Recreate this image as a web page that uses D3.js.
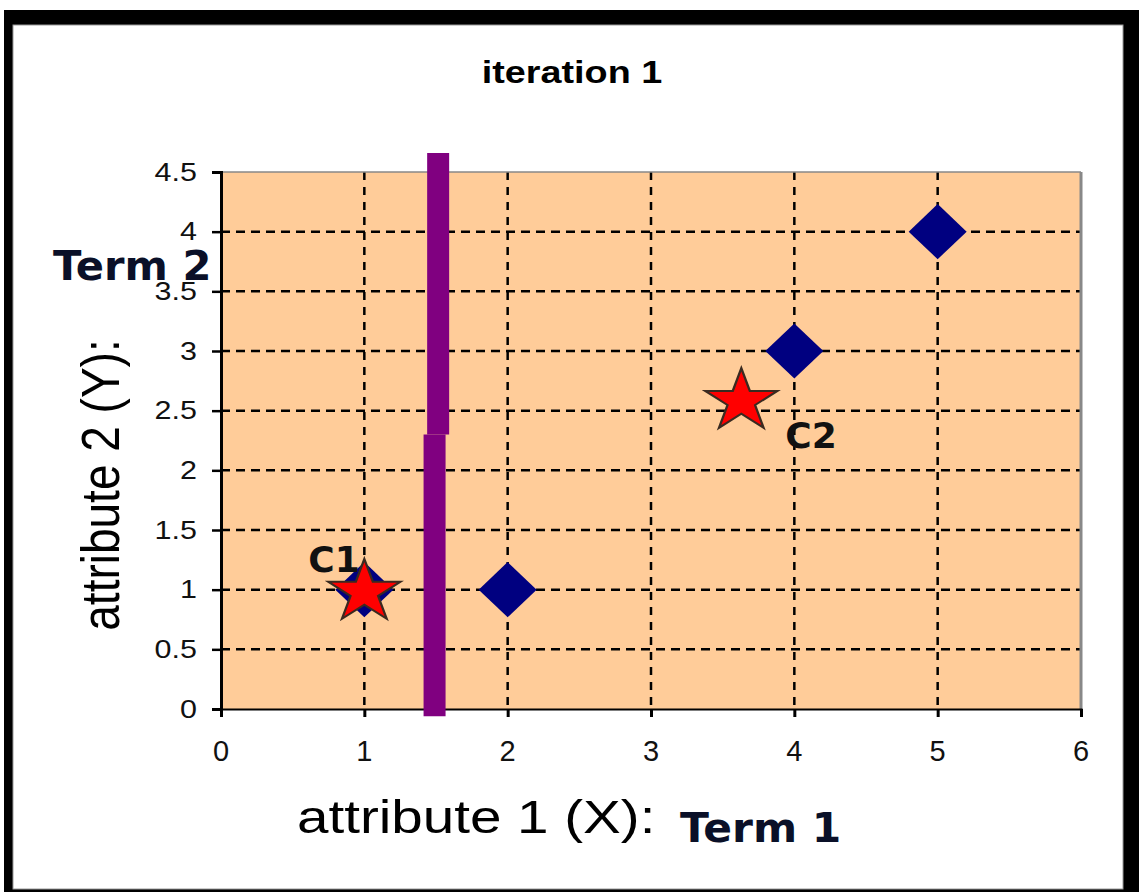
<!DOCTYPE html>
<html lang="en">
<head>
    <meta charset="UTF-8">
    <title>iteration 1</title>
    <style>
        html, body { margin: 0; padding: 0; background: #fff; }
        svg { display: block; }
    </style>
</head>
<body>
    <div id="chart"></div>
    <script src="https://d3js.org/d3.v7.min.js"></script>
    <script>
        // data points (diamonds)
        const pointX = [1, 2, 4, 5];
        const pointY = [1, 1, 3, 4];

        // centroids (stars)
        const centroidNames = ["C1", "C2"];
        const centroidX = [1, 3.63];
        const centroidY = [0.98, 2.58];

        // separating line, drawn as two thick segments
        const sepX = [1.515, 1.49];
        const sepY0 = [2.3, -0.06];
        const sepY1 = [4.66, 2.3];

        const xTicks = [0, 1, 2, 3, 4, 5, 6];
        const yTicks = [0, 0.5, 1, 1.5, 2, 2.5, 3, 3.5, 4, 4.5];
        const yTickLabels = ["0", "0.5", "1", "1.5", "2", "2.5", "3", "3.5", "4", "4.5"];

        const W = 1139, H = 892;
        const plot = { left: 221, right: 1081, top: 172, bottom: 709 };

        const svg = d3.select("#chart").append("svg")
            .attr("width", W)
            .attr("height", H);

        // frame: black border, white inside
        svg.append("rect").attr("x", 4).attr("y", 10).attr("width", W - 4).attr("height", H - 10).attr("fill", "#000");
        svg.append("rect").attr("x", 13).attr("y", 25).attr("width", 1110).attr("height", 864)
            .attr("fill", "#fff").attr("stroke", "#999").attr("stroke-width", 1);

        const x = d3.scaleLinear().domain([0, 6]).range([plot.left, plot.right]);
        const y = d3.scaleLinear().domain([0, 4.5]).range([plot.bottom, plot.top]);

        // plot background
        svg.append("rect")
            .attr("x", x(0)).attr("y", y(4.5))
            .attr("width", x(6) - x(0)).attr("height", y(0) - y(4.5))
            .attr("fill", "#FFCC99");

        // grid
        svg.append("g").selectAll("line")
            .data(yTicks.filter(d => d > 0 && d < 4.5))
            .enter().append("line")
            .attr("x1", x(0)).attr("x2", x(6))
            .attr("y1", d => y(d)).attr("y2", d => y(d))
            .attr("stroke", "#000").attr("stroke-width", 2.5)
            .attr("stroke-dasharray", "9,6");

        svg.append("g").selectAll("line")
            .data(xTicks.filter(d => d > 0 && d < 6))
            .enter().append("line")
            .attr("x1", d => x(d)).attr("x2", d => x(d))
            .attr("y1", y(4.5)).attr("y2", y(0))
            .attr("stroke", "#000").attr("stroke-width", 2.5)
            .attr("stroke-dasharray", "8,7");

        // plot border top / right
        svg.append("line").attr("x1", x(0)).attr("x2", x(6)).attr("y1", y(4.5)).attr("y2", y(4.5))
            .attr("stroke", "#888").attr("stroke-width", 1.5);
        svg.append("line").attr("x1", x(6)).attr("x2", x(6)).attr("y1", y(4.5)).attr("y2", y(0))
            .attr("stroke", "#888").attr("stroke-width", 3);

        // axes
        const yAxis = svg.append("g")
            .attr("transform", `translate(${x(0)},0)`)
            .call(d3.axisLeft(y).tickValues(yTicks).tickSize(9).tickFormat(""));
        yAxis.select(".domain").attr("stroke", "#000").attr("stroke-width", 3);
        yAxis.selectAll(".tick line").attr("stroke", "#000").attr("stroke-width", 2.5);

        const xAxis = svg.append("g")
            .attr("transform", `translate(0,${y(0)})`)
            .call(d3.axisBottom(x).tickValues(xTicks).tickSize(8).tickFormat(""));
        xAxis.select(".domain").attr("stroke", "#000").attr("stroke-width", 2);
        xAxis.selectAll(".tick line").attr("stroke", "#000").attr("stroke-width", 3);

        // tick labels
        svg.append("g").selectAll("text")
            .data(yTicks)
            .enter().append("text")
            .attr("transform", d => `translate(197,${y(d)}) scale(1.22,1)`)
            .attr("text-anchor", "end")
            .attr("dominant-baseline", "central")
            .attr("font-family", "Liberation Sans, Arial, sans-serif")
            .attr("font-size", 25)
            .attr("fill", "#111")
            .text((d, i) => yTickLabels[i]);

        svg.append("g").selectAll("text")
            .data(xTicks)
            .enter().append("text")
            .attr("transform", d => `translate(${x(d)},${y(0) + 52})`)
            .attr("text-anchor", "middle")
            .attr("font-family", "Liberation Sans, Arial, sans-serif")
            .attr("font-size", 29)
            .attr("fill", "#111")
            .text(d => d);

        // separator
        svg.append("g").selectAll("line")
            .data(sepX)
            .enter().append("line")
            .attr("x1", d => x(d)).attr("x2", d => x(d))
            .attr("y1", (d, i) => y(sepY0[i])).attr("y2", (d, i) => y(sepY1[i]))
            .attr("stroke", "#800080").attr("stroke-width", 22);

        // diamonds
        const diamond = {
            draw(ctx, size) {
                const w = Math.sqrt(size) * 0.5, h = w * 0.95;
                ctx.moveTo(0, -h); ctx.lineTo(w, 0); ctx.lineTo(0, h); ctx.lineTo(-w, 0); ctx.closePath();
            }
        };
        svg.append("g").selectAll("path")
            .data(pointX)
            .enter().append("path")
            .attr("transform", (d, i) => `translate(${x(d)},${y(pointY[i])})`)
            .attr("d", d3.symbol().type(diamond).size(58 * 58))
            .attr("fill", "#000080");

        // stars
        const starR = 33;
        svg.append("g").selectAll("path")
            .data(centroidX)
            .enter().append("path")
            .attr("transform", (d, i) => `translate(${x(d)},${y(centroidY[i])}) scale(1.15,1)`)
            .attr("d", d3.symbol().type(d3.symbolStar).size(starR * starR / 0.8908130915292852))
            .attr("fill", "#FF0000")
            .attr("stroke", "#3a2a20").attr("stroke-width", 2);

        // centroid labels
        const labelDx = [-56, 44], labelDy = [-20, 47];
        svg.append("g").selectAll("text")
            .data(centroidNames)
            .enter().append("text")
            .attr("x", (d, i) => x(centroidX[i]) + labelDx[i])
            .attr("y", (d, i) => y(centroidY[i]) + labelDy[i])
            .attr("font-family", "DejaVu Sans, Verdana, sans-serif")
            .attr("font-weight", "bold")
            .attr("font-size", 36)
            .attr("fill", "#111")
            .text(d => d);

        // title
        svg.append("text")
            .attr("transform", "translate(572,83) scale(1.18,1)")
            .attr("text-anchor", "middle")
            .attr("font-family", "Liberation Sans, Arial, sans-serif")
            .attr("font-weight", "bold")
            .attr("font-size", 32)
            .attr("fill", "#000")
            .text("iteration 1");

        // axis titles
        svg.append("text")
            .attr("transform", "translate(297,833) scale(1.23,1)")
            .attr("font-family", "Liberation Sans, Arial, sans-serif")
            .attr("font-size", 46)
            .attr("fill", "#000")
            .text("attribute 1 (X):");

        svg.append("text")
            .attr("transform", "translate(119,485) scale(1.15,1) rotate(-90)")
            .attr("text-anchor", "middle")
            .attr("font-family", "Liberation Sans, Arial, sans-serif")
            .attr("font-size", 46)
            .attr("fill", "#000")
            .text("attribute 2 (Y):");

        // term labels
        svg.append("text")
            .attr("transform", "translate(680,842) scale(1.06,1)")
            .attr("font-family", "DejaVu Sans, Verdana, sans-serif")
            .attr("font-weight", "bold").attr("font-size", 40)
            .attr("fill", "#0a1028")
            .text("Term 1");

        svg.append("text")
            .attr("transform", "translate(53,280) scale(1.04,1)")
            .attr("font-family", "DejaVu Sans, Verdana, sans-serif")
            .attr("font-weight", "bold").attr("font-size", 40)
            .attr("fill", "#0a1028")
            .text("Term 2");
    </script>
</body>
</html>
